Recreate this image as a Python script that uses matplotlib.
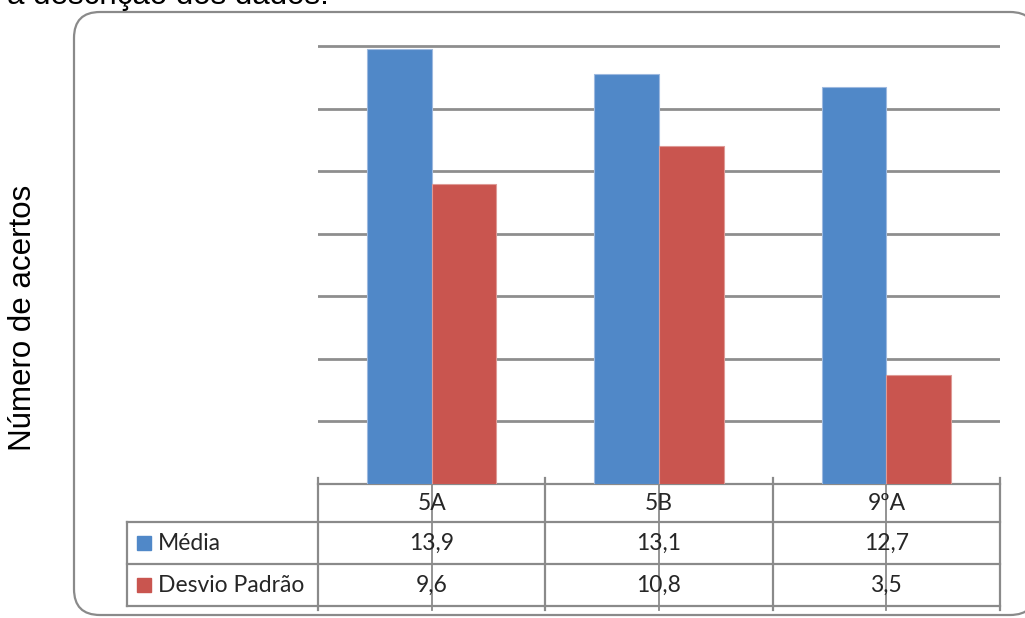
import matplotlib.pyplot as plt
from matplotlib.patches import FancyBboxPatch, Rectangle

# Dados por turma
turmas = ["5A", "5B", "9ºA"]
media = [13.9, 13.1, 12.7]
desvio = [9.6, 10.8, 3.5]
series = ["Média", "Desvio Padrão"]

AZUL = "#5088C8"
VERMELHO = "#C9554F"
GRADE = "#8E8E8E"
TEXTO_TAB = "#262626"

W, H = 1025, 618
fig = plt.figure(figsize=(W / 100, H / 100), dpi=100)

# camada de fundo em pixels (y para baixo) para moldura, tabela e textos
base = fig.add_axes([0, 0, 1, 1])
base.set_xlim(0, W)
base.set_ylim(H, 0)
base.axis("off")

# area do grafico de barras
esq, dir_, topo, fundo = 318, 1000, 46, 484
ymax = 14.2
alt = (fundo - topo) * ymax / 14
ax = fig.add_axes([esq / W, 1 - fundo / H, (dir_ - esq) / W, alt / H])
ax.patch.set_alpha(0)

x = range(len(turmas))
larg = 0.285
ax.bar([i - larg / 2 for i in x], media, larg, color=AZUL, edgecolor="#9DB9DF", lw=0.8)
ax.bar([i + larg / 2 for i in x], desvio, larg, color=VERMELHO, edgecolor="#DE9A96", lw=0.8)

ax.set_xlim(-0.5, len(turmas) - 0.5)
ax.set_ylim(0, ymax)
ax.set_yticks(range(2, 15, 2))
ax.set_xticks([])
ax.tick_params(left=False, labelleft=False)
ax.yaxis.grid(True, color=GRADE, lw=2)
ax.set_axisbelow(True)
for s in ax.spines.values():
    s.set_visible(False)

# moldura arredondada
base.add_patch(FancyBboxPatch((74, 12), 962, 603, boxstyle="round,pad=0,rounding_size=26",
                              fc="white", ec="#8A8A8A", lw=1.6, zorder=0))

# textos externos
base.text(7, 4, "a descrição dos dados.", fontsize=22.5, family="Liberation Sans",
          va="baseline", ha="left", color="black")
base.text(23, 318, "Número de acertos", fontsize=22.5, family="Liberation Sans",
          rotation=90, ha="center", va="center", color="black")


def px(xd):
    # converte x de dados do grafico para pixel da camada de fundo
    return base.transData.inverted().transform(ax.transData.transform((xd, 0)))[0]


fig.canvas.draw()
bordas = [px(i - 0.5) for i in range(len(turmas) + 1)]
centros = [px(i) for i in x]

linhas_y = [fundo, 522, 564, 606]
leg_x0 = 127
lw_tab = 1.6
cor_tab = "#8A8A8A"

# linhas da tabela
base.plot([bordas[0], bordas[-1]], [linhas_y[0]] * 2, color=cor_tab, lw=lw_tab)
for yy in linhas_y[1:]:
    base.plot([leg_x0, bordas[-1]], [yy, yy], color=cor_tab, lw=lw_tab)
base.plot([leg_x0, leg_x0], [linhas_y[1], linhas_y[3]], color=cor_tab, lw=lw_tab)
for bx in bordas:
    base.plot([bx, bx], [linhas_y[0] - 6, linhas_y[3] + 4], color=cor_tab, lw=lw_tab)
for cx in centros:
    base.plot([cx, cx], [linhas_y[0] - 4, linhas_y[3] + 4], color=cor_tab, lw=1.3)

fonte_tab = dict(fontsize=16.5, family="Lato", color=TEXTO_TAB, va="center")
meio = [(linhas_y[i] + linhas_y[i + 1]) / 2 for i in range(3)]
for cx, t in zip(centros, turmas):
    base.text(cx, meio[0], t, ha="center", **fonte_tab)
for linha, valores, cor, nome in zip(meio[1:], [media, desvio], [AZUL, VERMELHO], series):
    base.add_patch(Rectangle((137, linha - 7), 14, 14, color=cor))
    base.text(158, linha, nome, ha="left", **fonte_tab)
    for cx, v in zip(centros, valores):
        base.text(cx, linha, f"{v:.1f}".replace(".", ","), ha="center", **fonte_tab)

fig.savefig("out.png", dpi=100)
